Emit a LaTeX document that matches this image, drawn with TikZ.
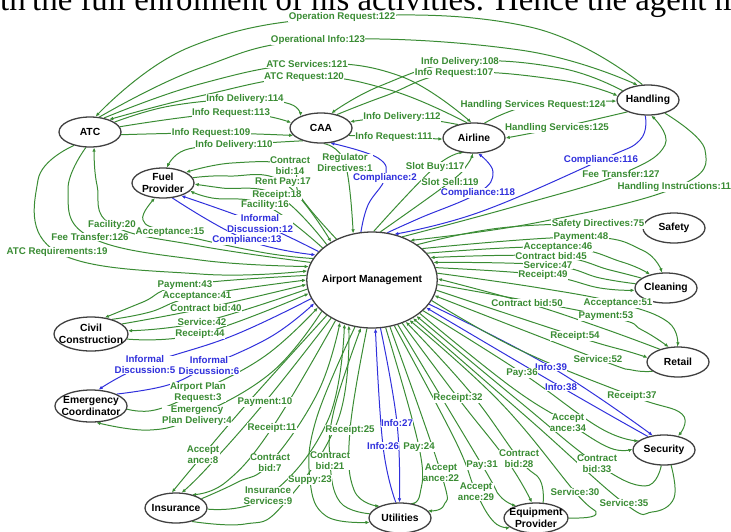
\documentclass[tikz,border=0pt]{standalone}
\usepackage{fontspec}
\setmainfont{Liberation Serif}
\setsansfont{Liberation Sans}
\usetikzlibrary{shapes.geometric,arrows.meta}
\definecolor{lgreen}{RGB}{58,140,52}
\definecolor{lblue}{RGB}{48,48,220}
\pgfdeclarelayer{bg}
\pgfsetlayers{bg,main}
\tikzstyle{agent}=[ellipse,draw=black!75,line width=1.1pt,fill=white,minimum width=18.6mm,minimum height=9mm,inner xsep=-1.2mm,inner ysep=0pt,align=center,font=\sffamily\bfseries\fontsize{8.8}{10}\selectfont]
\tikzstyle{lbl}=[fill=white,inner sep=0.3pt,align=center,text=lgreen,font=\sffamily\bfseries\fontsize{8.3}{9.4}\selectfont]
\tikzstyle{blbl}=[lbl,text=lblue]
\tikzstyle{flow}=[draw=lgreen,line width=0.85pt,smooth,tension=0.7,-{Latex[length=3.5pt,width=3pt]}]
\tikzstyle{bflow}=[flow,draw=lblue]

\begin{document}
\begin{tikzpicture}[x=0.3mm,y=-0.3mm]
    \useasboundingbox (0,0) rectangle (731,531);
    \node[agent,minimum width=39mm,minimum height=28.8mm] (AM) at (372,280) {Airport Management};
    \node[agent] (ATC) at (90,132) {ATC};
    \node[agent] (CAA) at (321,128) {CAA};
    \node[agent] (Airline) at (474,138) {Airline};
    \node[agent] (Handling) at (648,100) {Handling};
    \node[agent] (Fuel) at (163,183) {Fuel\\Provider};
    \node[agent] (Safety) at (674,228) {Safety};
    \node[agent] (Cleaning) at (666,288) {Cleaning};
    \node[agent] (Retail) at (678,362) {Retail};
    \node[agent] (Security) at (664,450) {Security};
    \node[agent] (Equip) at (536,518) {Equipment\\Provider};
    \node[agent] (Utilities) at (400,518) {Utilities};
    \node[agent] (Insurance) at (176,508) {Insurance};
    \node[agent,minimum width=21.6mm,minimum height=9.6mm] (Emergency) at (91,406) {Emergency\\Coordinator};
    \node[agent,minimum width=22.2mm,minimum height=10.2mm,inner xsep=-1.8mm] (Civil) at (91,334) {Civil\\Construction};

    \node[lbl] (l122) at (342,17) {Operation Request:122};
    \node[lbl] (l123) at (318,40) {Operational Info:123};
    \node[lbl] (l121) at (307,64) {ATC Services:121};
    \node[lbl] (l120) at (304,77) {ATC Request:120};
    \node[lbl] (l114) at (245,99) {Info Delivery:114};
    \node[lbl] (l113) at (231,113) {Info Request:113};
    \node[lbl] (l109) at (211,133) {Info Request:109};
    \node[lbl] (l110) at (234,145) {Info Delivery:110};
    \node[lbl] (l112) at (402,117) {Info Delivery:112};
    \node[lbl] (l111) at (394,137) {Info Request:111};
    \node[lbl] (l108) at (460,62) {Info Delivery:108};
    \node[lbl] (l107) at (454,73) {Info Request:107};
    \node[lbl] (l124) at (533,105) {Handling Services Request:124};
    \node[lbl] (l125) at (557,128) {Handling Services:125};
    \node[blbl] (l116) at (601,160) {Compliance:116};
    \node[lbl] (l127) at (621,174) {Fee Transfer:127};
    \node[lbl,anchor=west] (l115) at (617,187) {Handling Instructions:115};
    \node[blbl] (l118) at (478,193) {Compliance:118};
    \node[lbl] (l117) at (435,167) {Slot Buy:117};
    \node[lbl] (l119) at (450,182) {Slot Sell:119};
    \node[lbl] (l1) at (345,163) {Regulator\\Directives:1};
    \node[blbl] (l2) at (385,178) {Compliance:2};
    \node[lbl] (l14) at (290,166) {Contract\\bid:14};
    \node[lbl] (l17) at (283,182) {Rent Pay:17};
    \node[lbl] (l18) at (277,195) {Receipt:18};
    \node[lbl] (l16) at (265,205) {Facility:16};
    \node[blbl] (l12) at (260,224) {Informal\\Discussion:12};
    \node[blbl] (l13) at (247,240) {Compliance:13};
    \node[lbl] (l15) at (170,232) {Acceptance:15};
    \node[lbl] (l20) at (112,225) {Facility:20};
    \node[lbl] (l126) at (90,237) {Fee Transfer:126};
    \node[lbl] (l19) at (57,252) {ATC Requirements:19};
    \node[lbl] (l43) at (185,285) {Payment:43};
    \node[lbl] (l41) at (197,296) {Acceptance:41};
    \node[lbl] (l40) at (206,308) {Contract bid:40};
    \node[lbl] (l42) at (202,322) {Service:42};
    \node[lbl] (l44) at (200,334) {Receipt:44};
    \node[blbl] (l5) at (145,365) {Informal\\Discussion:5};
    \node[blbl] (l6) at (209,366) {Informal\\Discussion:6};
    \node[lbl] (l3) at (198,392) {Airport Plan\\Request:3};
    \node[lbl] (l4) at (197,416) {Emergency\\Plan Delivery:4};
    \node[lbl] (l10) at (265,402) {Payment:10};
    \node[lbl] (l11) at (272,428) {Receipt:11};
    \node[lbl] (l8) at (203,455) {Accept\\ance:8};
    \node[lbl] (l7) at (270,463) {Contract\\bid:7};
    \node[lbl] (l9) at (268,496) {Insurance\\Services:9};
    \node[lbl] (l23) at (310,480) {Suppy:23};
    \node[lbl] (l25) at (350,430) {Receipt:25};
    \node[lbl] (l21) at (330,461) {Contract\\bid:21};
    \node[blbl] (l27) at (397,423) {Info:27};
    \node[blbl] (l26) at (383,446) {Info:26};
    \node[lbl] (l24) at (419,447) {Pay:24};
    \node[lbl] (l22) at (441,473) {Accept\\ance:22};
    \node[lbl] (l32) at (458,398) {Receipt:32};
    \node[lbl] (l31) at (482,465) {Pay:31};
    \node[lbl] (l29) at (476,492) {Accept\\ance:29};
    \node[lbl] (l28) at (519,459) {Contract\\bid:28};
    \node[lbl] (l30) at (575,492) {Service:30};
    \node[blbl] (l39) at (551,367) {Info:39};
    \node[blbl] (l38) at (561,387) {Info:38};
    \node[lbl] (l36) at (522,373) {Pay:36};
    \node[lbl] (l37) at (632,396) {Receipt:37};
    \node[lbl] (l34) at (568,423) {Accept\\ance:34};
    \node[lbl] (l33) at (597,464) {Contract\\bid:33};
    \node[lbl] (l35) at (624,503) {Service:35};
    \node[lbl] (l50) at (527,303) {Contract bid:50};
    \node[lbl] (l51) at (618,303) {Acceptance:51};
    \node[lbl] (l53) at (606,316) {Payment:53};
    \node[lbl] (l54) at (575,336) {Receipt:54};
    \node[lbl] (l52) at (598,359) {Service:52};
    \node[lbl] (l75) at (598,224) {Safety Directives:75};
    \node[lbl] (l48) at (581,237) {Payment:48};
    \node[lbl] (l46) at (558,247) {Acceptance:46};
    \node[lbl] (l45) at (551,256) {Contract bid:45};
    \node[lbl] (l47) at (548,265) {Service:47};
    \node[lbl] (l49) at (543,275) {Receipt:49};

    \node[anchor=base east,inner sep=0pt,font=\fontsize{28}{30}\selectfont] (txtw) at (26,10) {with};
    \node[anchor=base west,inner sep=0pt,font=\fontsize{28}{30}\selectfont] (txt) at (32,10) {the full enrolment of his activities. Hence the agent may};

    \begin{pgfonlayer}{bg}
    \draw[flow] plot coordinates {(Handling.110) (530,27) (l122.center) (190,47) (ATC.70)};
    \draw[flow] plot coordinates {(ATC.58) (200,68) (l123.center) (520,50) (Handling.125)};
    \draw[flow] plot coordinates {(ATC.45) (200,84) (l121.center) (400,76) (Airline.100)};
    \draw[flow] plot coordinates {(Airline.115) (390,90) (l120.center) (200,96) (ATC.33)};
    \draw[flow] plot coordinates {(ATC.22) (170,106) (l114.center) (290,104) (CAA.150)};
    \draw[flow] plot coordinates {(ATC.10) (l113.center) (CAA.170)};
    \draw[flow] plot coordinates {(ATC.-5) (l109.center) (CAA.195)};
    \draw[flow] plot coordinates {(CAA.215) (l110.center) (185,150) (Fuel.75)};
    \draw[flow] plot coordinates {(Airline.140) (l112.center) (CAA.12)};
    \draw[flow] plot coordinates {(CAA.-15) (l111.center) (Airline.182)};
    \draw[flow] plot coordinates {(Handling.160) (560,68) (l108.center) (380,86) (CAA.55)};
    \draw[flow] plot coordinates {(CAA.40) (385,96) (l107.center) (560,80) (Handling.172)};
    \draw[flow] plot coordinates {(Airline.55) (l124.center) (Handling.182)};
    \draw[flow] plot coordinates {(Handling.-150) (l125.center) (Airline.0)};
    \draw[bflow] plot coordinates {(Handling.-100) (640,140) (l116.center) (480,212) (AM.64)};
    \draw[flow] plot coordinates {(AM.55) (520,205) (l127.center) (665,145) (Handling.-78)};
    \draw[flow] plot coordinates {(Handling.-38) (705,150) (l115.center) (540,222) (AM.46)};
    \draw[bflow] plot coordinates {(AM.72) (420,218) (l118.center) (493,172) (Airline.-75)};
    \draw[flow] plot coordinates {(AM.88) (l117.center) (Airline.-125)};
    \draw[flow] plot coordinates {(AM.80) (l119.center) (467,165) (Airline.-95)};
    \draw[flow] plot coordinates {(CAA.-80) (l1.center) (AM.112)};
    \draw[bflow] plot coordinates {(AM.103) (368,205) (l2.center) (378,158) (CAA.-58)};
    \draw[flow] plot coordinates {(AM.131) (300,196) (l14.center) (232,163) (Fuel.25)};
    \draw[flow] plot coordinates {(Fuel.10) (228,176) (l17.center) (AM.137)};
    \draw[flow] plot coordinates {(AM.142) (l18.center) (222,188) (Fuel.-2)};
    \draw[flow] plot coordinates {(AM.147) (l16.center) (212,198) (Fuel.-16)};
    \draw[bflow] plot coordinates {(AM.152) (l12.center) (Fuel.-35)};
    \draw[bflow] plot coordinates {(Fuel.-58) (l13.center) (AM.156)};
    \draw[flow] plot coordinates {(AM.160) (260,252) (l15.center) (143,220) (Fuel.-118)};
    \draw[flow] plot coordinates {(AM.164) (200,246) (l20.center) (97,185) (ATC.-75)};
    \draw[flow] plot coordinates {(ATC.-105) (68,190) (l126.center) (200,260) (AM.168)};
    \draw[flow] plot coordinates {(ATC.-140) (38,180) (l19.center) (200,274) (AM.172)};
    \draw[flow] plot coordinates {(AM.176) (l43.center) (143,302) (Civil.50)};
    \draw[flow] plot coordinates {(Civil.35) (150,312) (l41.center) (AM.180)};
    \draw[flow] plot coordinates {(Civil.18) (l40.center) (AM.184)};
    \draw[flow] plot coordinates {(AM.188) (l42.center) (Civil.5)};
    \draw[flow] plot coordinates {(Civil.-8) (l44.center) (AM.192)};
    \draw[bflow] plot coordinates {(AM.197) (232,336) (l5.center) (Emergency.65)};
    \draw[bflow] plot coordinates {(Emergency.25) (168,385) (l6.center) (272,336) (AM.202)};
    \draw[flow] plot coordinates {(Emergency.-5) (155,410) (l3.center) (265,356) (AM.207)};
    \draw[flow] plot coordinates {(AM.212) (272,372) (l4.center) (150,430) (Emergency.-72)};
    \draw[flow] plot coordinates {(AM.218) (252,398) (l8.center) (Insurance.105)};
    \draw[flow] plot coordinates {(AM.223) (l10.center) (207,468) (Insurance.70)};
    \draw[flow] plot coordinates {(AM.228) (l11.center) (226,482) (Insurance.40)};
    \draw[flow] plot coordinates {(Insurance.20) (238,482) (l7.center) (318,392) (AM.233)};
    \draw[flow] plot coordinates {(Insurance.-2) (l9.center) (328,420) (AM.238)};
    \draw[flow] plot coordinates {(Insurance.-40) (245,524) (282,506) (338,420) (AM.243)};
    \draw[flow] plot coordinates {(AM.250) (316,420) (l23.center) (326,516) (Utilities.-172)};
    \draw[flow] plot coordinates {(Utilities.172) (340,502) (l21.center) (334,410) (AM.257)};
    \draw[flow] plot coordinates {(AM.264) (l25.center) (354,490) (Utilities.150)};
    \draw[bflow] plot coordinates {(Utilities.105) (l26.center) (AM.-86)};
    \draw[bflow] plot coordinates {(AM.-80) (l27.center) (Utilities.92)};
    \draw[flow] plot coordinates {(AM.-74) (l24.center) (420,494) (Utilities.55)};
    \draw[flow] plot coordinates {(AM.-69) (l22.center) (444,505) (Utilities.15)};
    \draw[flow] plot coordinates {(AM.-64) (455,440) (l29.center) (494,522) (Equip.-160)};
    \draw[flow] plot coordinates {(AM.-60) (l31.center) (500,496) (Equip.148)};
    \draw[flow] plot coordinates {(AM.-55) (l32.center) (508,462) (Equip.105)};
    \draw[flow] plot coordinates {(Equip.65) (540,480) (l28.center) (470,392) (AM.-51)};
    \draw[flow] plot coordinates {(Equip.0) (596,514) (l30.center) (500,402) (AM.-47)};
    \draw[flow] plot coordinates {(Security.-65) (674,498) (652,512) (l35.center) (530,420) (AM.-43)};
    \draw[flow] plot coordinates {(Security.-100) (645,486) (l33.center) (520,402) (AM.-39)};
    \draw[flow] plot coordinates {(AM.-35) (510,386) (l34.center) (610,448) (Security.178)};
    \draw[flow] plot coordinates {(AM.-31) (l36.center) (600,428) (Security.160)};
    \draw[bflow] plot coordinates {(Security.140) (l38.center) (AM.-27)};
    \draw[bflow] plot coordinates {(AM.-23) (l39.center) (Security.128)};
    \draw[flow] plot coordinates {(AM.-19) (520,350) (l37.center) (682,414) (Security.45)};
    \draw[flow] plot coordinates {(Retail.-160) (632,370) (l52.center) (AM.-14)};
    \draw[flow] plot coordinates {(AM.-9) (l54.center) (630,352) (Retail.172)};
    \draw[flow] plot coordinates {(AM.-4) (l53.center) (642,330) (Retail.122)};
    \draw[flow] plot coordinates {(Retail.145) (602,328) (l50.center) (AM.1)};
    \draw[flow] plot coordinates {(AM.6) (540,288) (l51.center) (668,322) (Retail.92)};
    \draw[flow] plot coordinates {(AM.38) (500,228) (l75.center) (Safety.180)};
    \draw[flow] plot coordinates {(AM.32) (l48.center) (642,250) (Cleaning.105)};
    \draw[flow] plot coordinates {(AM.26) (l46.center) (622,262) (Cleaning.140)};
    \draw[flow] plot coordinates {(Cleaning.158) (610,270) (l45.center) (AM.21)};
    \draw[flow] plot coordinates {(Cleaning.172) (600,278) (l47.center) (AM.16)};
    \draw[flow] plot coordinates {(AM.11) (l49.center) (600,288) (Cleaning.-176)};
    \end{pgfonlayer}
\end{tikzpicture}
\end{document}
